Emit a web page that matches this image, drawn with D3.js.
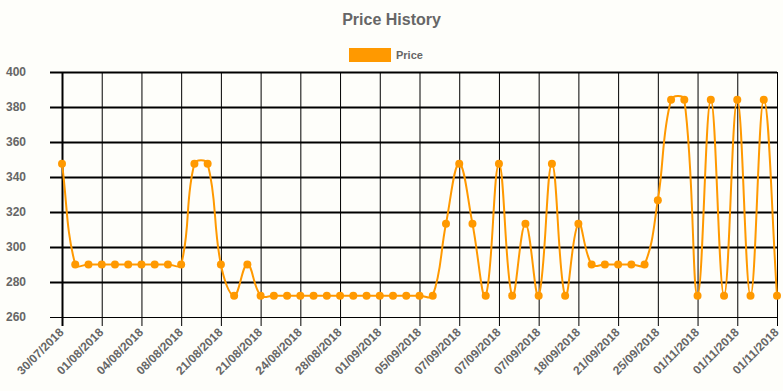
<!DOCTYPE html>
<html>
<head>
<meta charset="utf-8">
<script src="https://cdn.jsdelivr.net/npm/d3@7/dist/d3.min.js"></script>
<style>
  html, body { margin: 0; padding: 0; background: #fefefa; }
  svg { display: block; font-family: "Liberation Sans", Arial, sans-serif; }
</style>
</head>
<body>
<svg id="chart" width="783" height="391"></svg>
<script>
// ---- data ----
const categories = [
  "30/07/2018","31/07/2018","31/07/2018","01/08/2018","02/08/2018","03/08/2018",
  "04/08/2018","05/08/2018","07/08/2018","08/08/2018","10/08/2018","13/08/2018",
  "21/08/2018","21/08/2018","21/08/2018","21/08/2018","22/08/2018","23/08/2018",
  "24/08/2018","25/08/2018","27/08/2018","28/08/2018","29/08/2018","31/08/2018",
  "01/09/2018","03/09/2018","04/09/2018","05/09/2018","06/09/2018","07/09/2018",
  "07/09/2018","07/09/2018","07/09/2018","07/09/2018","07/09/2018","07/09/2018",
  "07/09/2018","11/09/2018","14/09/2018","18/09/2018","19/09/2018","20/09/2018",
  "21/09/2018","22/09/2018","24/09/2018","25/09/2018","28/09/2018","01/10/2018",
  "01/11/2018","01/11/2018","01/11/2018","01/11/2018","01/11/2018","01/11/2018",
  "01/11/2018"
];
const prices = [
  347.6, 290, 290, 290, 290, 290, 290, 290, 290, 290,
  347.6, 347.6, 290, 272.2, 290, 272.2, 272.2, 272.2, 272.2, 272.2,
  272.2, 272.2, 272.2, 272.2, 272.2, 272.2, 272.2, 272.2, 272.2, 313.3,
  347.6, 313.3, 272.2, 347.6, 272.2, 313.3, 272.2, 347.6, 272.2, 313.3,
  290, 290, 290, 290, 290, 326.7, 384.2, 384.2, 272.2, 384.2,
  272.2, 384.2, 272.2, 384.2, 272.2
];
const yTicks = [260, 280, 300, 320, 340, 360, 380, 400];
const labelEvery = 3;
const seriesName = "Price";
const titleText = "Price History";

(function () {
// ---- layout ----
const L = 62, R = 777, T = 72, B = 317;
const orange = "#ff9900";
const textGrey = "#666666";

const svg = d3.select("#chart");

const x = d3.scalePoint().domain(d3.range(prices.length)).range([L, R]);
const y = d3.scaleLinear().domain([260, 400]).range([B, T]);

// title
svg.append("text").attr("x", 391.5).attr("y", 25)
  .attr("text-anchor", "middle").attr("font-size", 16).attr("font-weight", "bold")
  .attr("fill", textGrey).text(titleText);

// legend
svg.append("rect").attr("x", 349).attr("y", 48).attr("width", 42).attr("height", 14).attr("fill", orange);
svg.append("text").attr("x", 396).attr("y", 59).attr("font-size", 11).attr("font-weight", "bold")
  .attr("fill", textGrey).text(seriesName);

// horizontal grid + y axis
const yAxis = d3.axisLeft(y).tickValues(yTicks).tickSize(R - L + 12).tickPadding(0).tickFormat(d3.format("d"));
const gy = svg.append("g").attr("transform", `translate(${R},0)`).call(yAxis);
gy.select(".domain").remove();
gy.selectAll(".tick line").attr("stroke", "#000").attr("stroke-width", d => d === 260 ? 1 : 2);
gy.selectAll(".tick text").attr("x", -(R - 26)).attr("text-anchor", "end")
  .attr("font-size", 12).attr("font-weight", "bold").attr("fill", textGrey)
  .attr("font-family", "Liberation Sans, Arial, sans-serif");

// vertical grid + x axis
const shown = d3.range(prices.length).filter(i => i % labelEvery === 0);
const xAxis = d3.axisBottom(x).tickValues(shown).tickSize(-(B - T)).tickFormat(i => categories[i]);
const gx = svg.append("g").attr("transform", `translate(0,${B})`).call(xAxis);
gx.select(".domain").remove();
gx.selectAll(".tick line").attr("stroke", "#000").attr("stroke-width", i => i === 0 ? 2 : 1).attr("y2", -(B - T)).attr("y1", 9);
gx.selectAll(".tick text")
  .attr("y", 0).attr("dy", "0.35em")
  .attr("text-anchor", "end")
  .attr("transform", "translate(-1,13) rotate(-45)")
  .attr("font-size", 12).attr("font-weight", "bold").attr("fill", textGrey)
  .attr("font-family", "Liberation Sans, Arial, sans-serif");

// line with Chart.js-like spline (tension 0.4)
const pts = prices.map((v, i) => ({ x: x(i), y: y(v) }));
const tension = 0.4;
const clamp = (v, a, b) => Math.max(a, Math.min(b, v));
pts.forEach((p, i) => {
  const prev = pts[i - 1] || p, next = pts[i + 1] || p;
  const d01 = Math.hypot(p.x - prev.x, p.y - prev.y);
  const d12 = Math.hypot(next.x - p.x, next.y - p.y);
  let s01 = d01 / (d01 + d12), s12 = d12 / (d01 + d12);
  if (isNaN(s01)) s01 = 0; if (isNaN(s12)) s12 = 0;
  const fa = tension * s01, fb = tension * s12;
  p.cpx0 = clamp(p.x - fa * (next.x - prev.x), L, R);
  p.cpy0 = clamp(p.y - fa * (next.y - prev.y), T, B);
  p.cpx1 = clamp(p.x + fb * (next.x - prev.x), L, R);
  p.cpy1 = clamp(p.y + fb * (next.y - prev.y), T, B);
});
const path = d3.path();
pts.forEach((p, i) => {
  if (i === 0) path.moveTo(p.x, p.y);
  else {
    const q = pts[i - 1];
    path.bezierCurveTo(q.cpx1, q.cpy1, p.cpx0, p.cpy0, p.x, p.y);
  }
});
svg.append("path").attr("d", path.toString()).attr("fill", "none")
  .attr("stroke", orange).attr("stroke-width", 2);

// points
svg.append("g").selectAll("circle").data(prices).join("circle")
  .attr("cx", (d, i) => x(i)).attr("cy", d => y(d)).attr("r", 4)
  .attr("fill", orange);
})();
</script>
</body>
</html>
